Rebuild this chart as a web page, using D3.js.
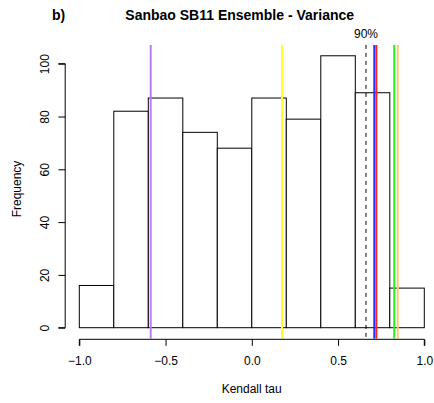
<!DOCTYPE html>
<html>
<head>
<meta charset="utf-8">
<script src="https://cdn.jsdelivr.net/npm/d3@7"></script>
<style>
  html, body { margin: 0; padding: 0; background: #fff; }
  svg { display: block; }
  text { font-family: "Liberation Sans", Arial, Helvetica, sans-serif; fill: #000; }
</style>
</head>
<body>
<script>
// ---- data ----
const breaks = [-1.0, -0.8, -0.6, -0.4, -0.2, 0.0, 0.2, 0.4, 0.6, 0.8, 1.0];
const counts = [16, 82, 87, 74, 68, 87, 79, 103, 89, 15];
const xTicks = [-1.0, -0.5, 0.0, 0.5, 1.0];
const yTicks = [0, 20, 40, 60, 80, 100];
const refNames  = ["purple", "yellow", "blue", "red", "green", "orange"];
const refValues = [-0.586, 0.175, 0.710, 0.722, 0.826, 0.846];
const refColors = ["#BA7CF7", "#FFFF22", "#2B2BFF", "#FF2020", "#22EE22", "#FFC878"];
const q90Value = 0.662;
const q90Label = "90%";
const titleText = "Sanbao SB11 Ensemble - Variance";
const panelLabel = "b)";
const xLabel = "Kendall tau";
const yLabel = "Frequency";

// ---- layout ----
const W = 434, H = 403;
const svg = d3.select("body").append("svg").attr("width", W).attr("height", H);

const x = d3.scaleLinear().domain([-1, 1]).range([79.3, 424.3]);
const y = d3.scaleLinear().domain([0, 100]).range([327.7, 63.7]);
const yMax = d3.max(counts);
const yTop = y(yMax * 1.04);
const yBot = y(-yMax * 0.04);

// bars
svg.append("g").selectAll("rect")
  .data(counts)
  .join("rect")
  .attr("x", (d, i) => x(breaks[i]))
  .attr("width", (d, i) => x(breaks[i + 1]) - x(breaks[i]))
  .attr("y", d => y(d))
  .attr("height", d => y(0) - y(d))
  .attr("fill", "#fff")
  .attr("stroke", "#000")
  .attr("stroke-width", 1);

// 90% dashed line
svg.append("line")
  .attr("x1", x(q90Value)).attr("x2", x(q90Value))
  .attr("y1", yTop).attr("y2", yBot)
  .attr("stroke", "#000").attr("stroke-width", 1)
  .attr("stroke-dasharray", "4,4");
svg.append("text")
  .attr("x", x(q90Value)).attr("y", 38)
  .attr("text-anchor", "middle")
  .attr("font-size", 12)
  .text(q90Label);

// reference lines
svg.append("g").selectAll("line")
  .data(refValues)
  .join("line")
  .attr("x1", d => x(d)).attr("x2", d => x(d))
  .attr("y1", yTop).attr("y2", yBot)
  .attr("stroke", (d, i) => refColors[i])
  .attr("stroke-width", 2);

// x axis
const xAxis = d3.axisBottom(x).tickValues(xTicks).tickFormat(d3.format(".1f")).tickSize(6.5).tickPadding(10);
const gx = svg.append("g").attr("transform", "translate(0,339.3)").call(xAxis);
gx.select(".domain").attr("d", `M${x(-1)},6.5V0H${x(1)}V6.5`);
gx.selectAll("text").attr("font-size", 12).attr("font-family", null).attr("fill", "#000")
  .attr("dy", null).attr("y", 25.5);
gx.selectAll("line, path").attr("stroke", "#000");

// y axis
const yAxis = d3.axisLeft(y).tickValues(yTicks).tickSize(6.8);
const gy = svg.append("g").attr("transform", "translate(65.2,0)").call(yAxis);
gy.select(".domain").attr("d", `M-6.8,${y(0)}H0V${y(100)}H-6.8`);
gy.selectAll("line, path").attr("stroke", "#000");
gy.selectAll("text")
  .attr("font-size", 12).attr("font-family", null).attr("fill", "#000")
  .attr("x", null).attr("dy", null)
  .attr("text-anchor", "middle")
  .attr("transform", "translate(-16.2,0) rotate(-90)")
  .attr("y", 0);

// labels
svg.append("text")
  .attr("x", 251.7).attr("y", 392.5)
  .attr("text-anchor", "middle").attr("font-size", 12)
  .text(xLabel);
svg.append("text")
  .attr("transform", "translate(21,189) rotate(-90)")
  .attr("text-anchor", "middle").attr("font-size", 12)
  .text(yLabel);
svg.append("text")
  .attr("x", 239.7).attr("y", 20)
  .attr("text-anchor", "middle").attr("font-size", 14).attr("font-weight", "bold")
  .text(titleText);
svg.append("text")
  .attr("x", 52).attr("y", 20)
  .attr("font-size", 14).attr("font-weight", "bold")
  .text(panelLabel);
</script>
</body>
</html>
